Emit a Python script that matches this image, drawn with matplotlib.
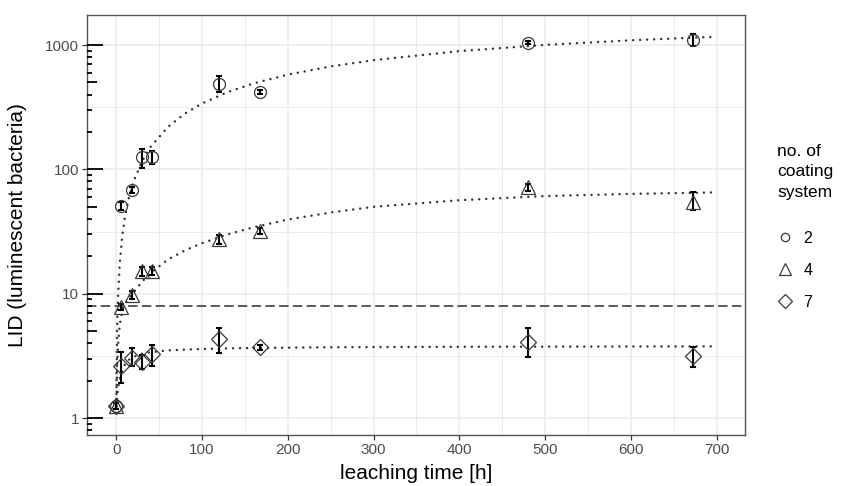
import matplotlib
matplotlib.use("Agg")
import matplotlib.pyplot as plt
from matplotlib.lines import Line2D
from matplotlib.ticker import FixedLocator, NullFormatter
import numpy as np

plt.rcParams['font.family'] = ['Liberation Sans', 'DejaVu Sans']

# ---- data ----
times = [0, 6, 18, 30, 42, 120, 168, 480, 672]

v2 = [1.25, 51, 68, 125, 125, 490, 421, 1045, 1100]
lo2 = [1.18, 47, 64, 102, 110, 421, 405, 1015, 985]
hi2 = [1.32, 55, 72, 147, 140, 565, 437, 1075, 1220]

v4 = [1.25, 7.8, 9.8, 15.3, 15.3, 27.3, 31.9, 71.6, 55]
lo4 = [1.18, 7.4, 9.0, 14.0, 14.2, 25.0, 30.0, 67, 47]
hi4 = [1.32, 8.2, 10.6, 16.5, 16.5, 29.5, 34.0, 76, 66]

v7 = [1.25, 2.63, 3.05, 2.83, 3.27, 4.29, 3.70, 4.10, 3.15]
lo7 = [1.18, 1.90, 2.63, 2.48, 2.63, 3.35, 3.55, 3.07, 2.58]
hi7 = [1.32, 3.41, 3.63, 3.20, 3.85, 5.26, 3.85, 5.26, 3.74]

fit_t = [0, 1, 2, 4, 7, 10, 15, 20, 30, 40, 60, 80, 100, 130, 160, 200,
         250, 300, 400, 500, 600, 700]
fit2 = [1.2, 5.3, 9.3, 17.4, 29.3, 41.2, 60.5, 79.5, 116, 152, 219, 281, 339,
        419, 491, 578, 673, 756, 894, 1003, 1092, 1167]
fit4 = [1.25, 2.6, 3.8, 5.6, 7.4, 8.3, 9.3, 10.2, 12.5, 14.7, 18.8, 22.3,
        25.5, 30.0, 34.2, 39.5, 45.0, 50.0, 56.5, 61.0, 63.5, 65.3]
fit7 = [1.25, 1.5, 1.75, 2.05, 2.4, 2.69, 2.95, 3.1, 3.29, 3.38, 3.5, 3.55,
        3.59, 3.63, 3.66, 3.68, 3.71, 3.72, 3.74, 3.75, 3.76, 3.77]

threshold = 8

legend_labels = ['2', '4', '7']
legend_title = 'no. of\ncoating\nsystem'
xlabel = 'leaching time [h]'
ylabel = 'LID (luminescent bacteria)'
xticks = [0, 100, 200, 300, 400, 500, 600, 700]
yticks = [1, 10, 100, 1000]

# ---- figure ----
W, H = 845, 486
fig = plt.figure(figsize=(W / 100, H / 100), dpi=100)
L, R, T, B = 86.7, 745, 15, 435
ax = fig.add_axes([L / W, 1 - B / H, (R - L) / W, (B - T) / H])

ax.set_yscale('log')
ax.set_xlim(-34.5, 733)
ax.set_ylim(0.73, 1745)

ax.set_xticks(xticks)
ax.set_xticklabels([str(t) for t in xticks])
ax.xaxis.set_minor_locator(FixedLocator([50, 150, 250, 350, 450, 550, 650]))
ax.set_yticks(yticks)
ax.set_yticklabels([str(t) for t in yticks])
ax.yaxis.set_minor_locator(FixedLocator([10 ** 0.5, 10 ** 1.5, 10 ** 2.5]))
ax.yaxis.set_minor_formatter(NullFormatter())

ax.grid(True, which='major', color='#ebebeb', lw=1.1, zorder=0)
ax.grid(True, which='minor', color='#ebebeb', lw=0.7, zorder=0)
ax.set_axisbelow(True)
ax.tick_params(which='major', length=3.5, width=0.9, color='#333333',
               labelsize=11, labelcolor='#4d4d4d', pad=2)
ax.tick_params(which='minor', length=0)
for s in ax.spines.values():
    s.set_color('#555555')
    s.set_linewidth(1.0)

# log ticks inside left
pw = (R - L)
for k in range(-1, 4):
    for m in range(1, 10):
        val = m * 10 ** k
        if 0.73 <= val <= 1745:
            if m == 1:
                ln = 16 / pw
            elif m == 5:
                ln = 10 / pw
            else:
                ln = 5 / pw
            ax.plot([0, ln], [val, val], transform=ax.get_yaxis_transform(),
                    color='black', lw=1.3, solid_capstyle='butt', zorder=3)

# threshold line
ax.axhline(threshold, color='#4d4d4d', lw=1.3, dashes=(5.2, 2.4), zorder=2)

# fit curves
for f in (fit2, fit4, fit7):
    ax.plot(fit_t, f, color='#333333', lw=1.8, linestyle=(0, (0.01, 2.8)),
            dash_capstyle='round', zorder=2)

mec = '#3a3a3a'
series = [(v2, lo2, hi2, 'o', 8.6), (v4, lo4, hi4, '^', 10.0), (v7, lo7, hi7, 'D', 8.4)]
for v, lo, hi, mk, ms in series:
    yerr = [np.array(v) - np.array(lo), np.array(hi) - np.array(v)]
    ax.errorbar(times, v, yerr=yerr, fmt='none', ecolor='black', elinewidth=1.5,
                capsize=2.2, capthick=1.5, zorder=4)
    ax.plot(times, v, linestyle='none', marker=mk, ms=ms, mfc='none', mec=mec,
            mew=0.9, zorder=5)

ax.set_xlabel(xlabel, fontsize=15)
ax.xaxis.set_label_coords(0.5, -(473 - B) / (B - T))
ax.xaxis.label.set_va('center')
ax.set_ylabel(ylabel, fontsize=15)
ax.yaxis.set_label_coords((18 - L) / (R - L), 0.5)
ax.yaxis.label.set_va('center')

# legend
fig.text(777 / W, 1 - 144 / H, legend_title, ha='left', va='top',
         fontsize=12.5, linespacing=1.45)
handles = [Line2D([], [], linestyle='none', marker='o', ms=6, mfc='none', mec=mec, mew=0.9),
           Line2D([], [], linestyle='none', marker='^', ms=8.5, mfc='none', mec=mec, mew=0.9),
           Line2D([], [], linestyle='none', marker='D', ms=6.8, mfc='none', mec=mec, mew=0.9)]
leg = fig.legend(handles, legend_labels, loc='upper left',
                 bbox_to_anchor=(775.5 / W, 1 - 231 / H), frameon=False,
                 fontsize=11.5, labelspacing=1.05,
                 handlelength=1.2, handletextpad=0.55,
                 borderaxespad=0, borderpad=0)

fig.savefig('out.png', dpi=100)
